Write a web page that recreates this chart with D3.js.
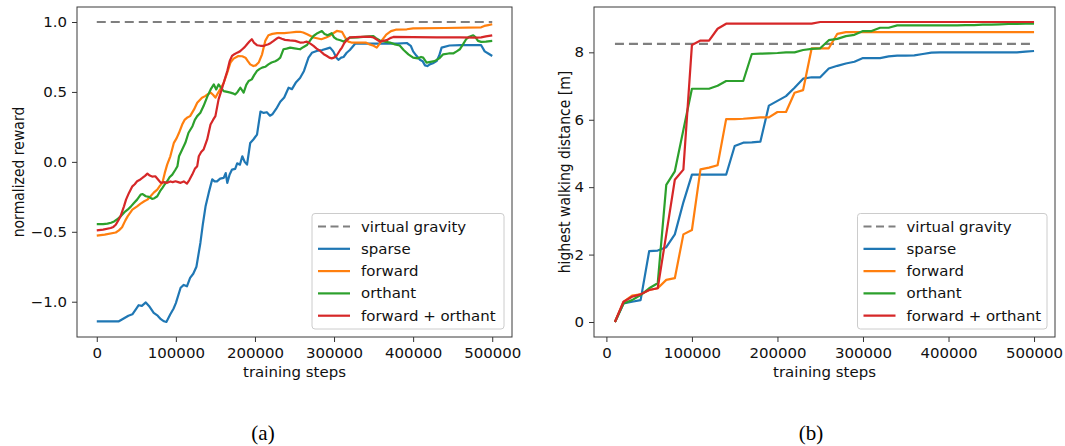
<!DOCTYPE html>
<html>
<head>
<meta charset="utf-8">
<script src="https://cdn.jsdelivr.net/npm/d3@7"></script>
<style>
  body { margin: 0; background: #ffffff; }
  svg { display: block; }
</style>
</head>
<body>
<svg id="fig" width="1065" height="446"></svg>
<script>
// ---------------- data ----------------
const stepTicks = [0, 100000, 200000, 300000, 400000, 500000];
const rewardTicks = [-1.0, -0.5, 0.0, 0.5, 1.0];
const distanceTicks = [0, 2, 4, 6, 8];

const seriesNames = ["sparse", "forward", "orthant", "forward + orthant"];
const seriesColors = ["#1f77b4", "#ff7f0e", "#2ca02c", "#d62728"];
const gravityName = "virtual gravity";
const gravityColor = "#7f7f7f";

// (a) normalized reward, [training step, reward]
const gravityReward = 1.0;
const sparseReward = [[0,-1.14],[10000,-1.14],[20000,-1.14],[28000,-1.14],[34000,-1.12],[40000,-1.10],[45000,-1.09],[50000,-1.05],[53000,-1.025],[57000,-1.03],[62000,-1.005],[66000,-1.03],[72000,-1.08],[77000,-1.10],[81000,-1.125],[85000,-1.14],[88000,-1.145],[93000,-1.09],[97000,-1.05],[100000,-1.01],[106000,-0.90],[110000,-0.88],[114000,-0.89],[118000,-0.83],[122000,-0.80],[126000,-0.75],[131000,-0.58],[134000,-0.45],[137500,-0.32],[141600,-0.22],[146000,-0.125],[149000,-0.14],[152000,-0.14],[156000,-0.12],[160500,-0.115],[163000,-0.08],[165000,-0.15],[168000,-0.09],[171000,-0.055],[175000,-0.05],[177500,-0.01],[181000,-0.02],[184000,0.04],[187000,0.0],[190000,-0.02],[194000,0.135],[198000,0.16],[202600,0.195],[207000,0.36],[211000,0.35],[215000,0.355],[219000,0.33],[222000,0.34],[227000,0.38],[232000,0.43],[237000,0.46],[242500,0.53],[246800,0.52],[252000,0.57],[257000,0.60],[262000,0.65],[267700,0.745],[272000,0.78],[278000,0.793],[285000,0.80],[291000,0.81],[295000,0.817],[299000,0.79],[303000,0.745],[305500,0.73],[309000,0.745],[312000,0.75],[316000,0.78],[320000,0.80],[326600,0.845],[340000,0.845],[360000,0.846],[380000,0.846],[392000,0.85],[397000,0.83],[400000,0.79],[404000,0.76],[408600,0.73],[412000,0.72],[415000,0.69],[418000,0.685],[421000,0.697],[425000,0.705],[429600,0.72],[433000,0.76],[436000,0.817],[446000,0.832],[460000,0.834],[486000,0.834],[490500,0.79],[495000,0.775],[500000,0.757]];
const forwardReward = [[0,-0.528],[10000,-0.52],[24000,-0.505],[28000,-0.49],[32000,-0.468],[36000,-0.42],[39000,-0.39],[45000,-0.342],[51000,-0.318],[55000,-0.30],[60000,-0.282],[64000,-0.27],[68000,-0.246],[72000,-0.22],[76500,-0.198],[80000,-0.17],[83000,-0.15],[86000,-0.079],[89000,-0.02],[93000,0.04],[97500,0.136],[101000,0.17],[104000,0.208],[108000,0.267],[111000,0.30],[114000,0.315],[118000,0.327],[123000,0.375],[127000,0.423],[133000,0.459],[137000,0.47],[140000,0.482],[144000,0.495],[147000,0.48],[150000,0.459],[153000,0.49],[156000,0.518],[160500,0.566],[165000,0.638],[169000,0.71],[173000,0.738],[179000,0.757],[184000,0.755],[188000,0.745],[191000,0.72],[194000,0.697],[198000,0.685],[201000,0.69],[204700,0.71],[209000,0.769],[213000,0.865],[217000,0.905],[222000,0.915],[228000,0.92],[237000,0.92],[245000,0.925],[252000,0.93],[257000,0.93],[261000,0.925],[266000,0.912],[274000,0.889],[284000,0.877],[290000,0.889],[294000,0.90],[299000,0.92],[303500,0.936],[310000,0.93],[314000,0.889],[318000,0.86],[322000,0.853],[330000,0.853],[340000,0.853],[345000,0.84],[350000,0.83],[354000,0.817],[357000,0.84],[360000,0.865],[366000,0.91],[372000,0.935],[378000,0.945],[392000,0.948],[400000,0.955],[440000,0.957],[486000,0.962],[490000,0.972],[495000,0.978],[500000,0.984]];
const orthantReward = [[0,-0.445],[8000,-0.445],[13500,-0.442],[18000,-0.435],[22000,-0.426],[26000,-0.41],[30000,-0.39],[35000,-0.36],[39000,-0.342],[43000,-0.32],[47000,-0.294],[51000,-0.27],[55500,-0.234],[58000,-0.23],[62000,-0.246],[66000,-0.25],[70000,-0.265],[73000,-0.26],[76500,-0.246],[80000,-0.21],[83000,-0.186],[86000,-0.16],[89000,-0.139],[92000,-0.11],[95500,-0.091],[99000,-0.06],[102000,-0.031],[104000,0.04],[108000,0.088],[112000,0.136],[116000,0.208],[121000,0.255],[124000,0.30],[127000,0.327],[131000,0.351],[135000,0.399],[140000,0.47],[144000,0.518],[148000,0.554],[151000,0.518],[154000,0.554],[157000,0.53],[160500,0.506],[165000,0.50],[169000,0.495],[172000,0.49],[175000,0.482],[178000,0.50],[181600,0.53],[185700,0.495],[189000,0.55],[192000,0.578],[196000,0.59],[199000,0.62],[202600,0.65],[206000,0.665],[209000,0.674],[213000,0.68],[217000,0.697],[221000,0.71],[225700,0.72],[229000,0.73],[232000,0.745],[236000,0.805],[240000,0.81],[244600,0.817],[250000,0.812],[257000,0.805],[261000,0.82],[265700,0.835],[270000,0.87],[274000,0.90],[279000,0.92],[284600,0.935],[288000,0.915],[292000,0.905],[297000,0.92],[300000,0.89],[303500,0.877],[308000,0.87],[312000,0.86],[316000,0.875],[320000,0.889],[330000,0.89],[340000,0.895],[349700,0.90],[353000,0.885],[358000,0.868],[364000,0.86],[370700,0.853],[377000,0.84],[383000,0.832],[388000,0.80],[394000,0.769],[400000,0.745],[406000,0.74],[410000,0.75],[412700,0.745],[417000,0.71],[422000,0.715],[427000,0.72],[433000,0.74],[438000,0.769],[445000,0.775],[450600,0.775],[455000,0.79],[459000,0.805],[463000,0.84],[467000,0.877],[471000,0.895],[476000,0.905],[479000,0.89],[482000,0.865],[486000,0.858],[492000,0.86],[500000,0.865]];
const bothReward = [[0,-0.49],[8000,-0.485],[17600,-0.473],[21000,-0.465],[24000,-0.45],[27000,-0.42],[30000,-0.39],[34400,-0.318],[37000,-0.27],[40700,-0.222],[45000,-0.175],[48000,-0.16],[51000,-0.139],[54000,-0.13],[57600,-0.115],[61000,-0.10],[64000,-0.084],[67000,-0.098],[70000,-0.105],[74000,-0.103],[78000,-0.13],[81000,-0.15],[85000,-0.145],[89000,-0.15],[93000,-0.14],[96000,-0.145],[99600,-0.139],[103000,-0.145],[106000,-0.15],[110000,-0.14],[114000,-0.156],[117000,-0.13],[120700,-0.091],[124000,-0.05],[127000,-0.031],[129000,0.04],[132000,0.07],[135000,0.088],[139600,0.16],[143800,0.267],[147000,0.30],[150000,0.327],[154000,0.447],[157000,0.50],[160500,0.566],[165000,0.65],[168000,0.72],[171000,0.757],[174000,0.77],[177500,0.781],[181000,0.79],[184000,0.805],[187000,0.82],[190000,0.841],[193000,0.86],[196000,0.877],[199000,0.85],[202600,0.834],[207000,0.83],[211000,0.829],[214000,0.835],[217000,0.841],[220000,0.85],[223600,0.865],[227000,0.88],[230000,0.889],[234000,0.88],[238000,0.872],[244000,0.868],[251000,0.865],[257000,0.853],[262000,0.855],[265700,0.86],[270000,0.845],[274000,0.829],[278000,0.81],[282500,0.793],[287000,0.77],[291000,0.757],[294000,0.745],[297000,0.74],[300000,0.745],[303000,0.757],[307700,0.80],[310000,0.817],[313000,0.85],[316000,0.87],[320000,0.89],[333000,0.893],[345000,0.895],[350000,0.889],[354000,0.875],[358000,0.86],[362000,0.865],[366600,0.87],[371000,0.885],[375000,0.893],[400000,0.892],[430000,0.89],[459000,0.89],[480000,0.889],[486000,0.89],[492000,0.897],[500000,0.905]];

// (b) highest walking distance [m], one value per evaluation step
const distanceSteps = [10000,20000,30000,40000,50000,60000,70000,80000,90000,100000,110000,120000,130000,140000,150000,160000,170000,180000,190000,200000,210000,220000,230000,240000,250000,260000,270000,280000,290000,300000,310000,320000,330000,340000,350000,360000,370000,380000,390000,400000,410000,420000,430000,440000,450000,460000,470000,480000,490000,500000];
const gravityDistance = 8.25;
const sparseDistance = [0,0.55,0.60,0.65,2.10,2.12,2.22,2.60,3.55,4.37,4.37,4.37,4.37,4.37,5.22,5.32,5.33,5.35,6.42,6.56,6.70,6.95,7.22,7.26,7.26,7.52,7.60,7.67,7.72,7.83,7.83,7.83,7.88,7.90,7.90,7.91,7.95,7.99,8.00,8.00,8.00,8.00,8.00,8.00,8.00,8.00,8.00,8.00,8.02,8.04];
const forwardDistance = [0,0.60,0.78,0.82,0.95,1.00,1.25,1.30,2.60,2.73,4.53,4.58,4.65,6.02,6.02,6.03,6.05,6.07,6.07,6.23,6.23,6.80,6.88,8.12,8.12,8.12,8.55,8.60,8.60,8.60,8.60,8.60,8.60,8.60,8.60,8.60,8.60,8.60,8.60,8.60,8.60,8.60,8.60,8.60,8.60,8.60,8.60,8.60,8.60,8.60];
const orthantDistance = [0,0.55,0.65,0.80,1.00,1.15,4.07,4.47,5.70,6.92,6.92,6.92,7.01,7.15,7.15,7.15,7.95,7.96,7.97,7.98,8.00,8.00,8.07,8.10,8.12,8.36,8.40,8.48,8.52,8.63,8.63,8.73,8.73,8.80,8.80,8.80,8.80,8.80,8.80,8.80,8.80,8.81,8.81,8.82,8.82,8.83,8.84,8.84,8.85,8.85];
const bothDistance = [0,0.60,0.75,0.82,0.95,1.00,2.60,4.22,4.52,8.22,8.35,8.35,8.70,8.85,8.85,8.85,8.85,8.85,8.85,8.85,8.85,8.85,8.85,8.85,8.90,8.90,8.90,8.90,8.90,8.90,8.90,8.90,8.90,8.90,8.90,8.90,8.90,8.90,8.90,8.90,8.90,8.90,8.90,8.90,8.90,8.90,8.90,8.90,8.90,8.90];

// ---------------- drawing ----------------
const FONT = "'DejaVu Sans', sans-serif";
const FS = 14;          // text size in px
const SX = 1.07;        // horizontal text stretch of the figure
const LW = 2.2;         // data line width
const svg = d3.select("#fig");

function stretchText(sel, dx) {
  sel.attr("x", 0).attr("transform", `translate(${dx},0) scale(${SX},1)`);
}

function drawPanel(cfg) {
  const { left, right, top, bottom, xDomain, yDomain, yTicks, yFormat, yLabel, series, gravity, caption, captionX } = cfg;
  const x = d3.scaleLinear().domain(xDomain).range([left, right]);
  const y = d3.scaleLinear().domain(yDomain).range([bottom, top]);
  const g = svg.append("g");

  // axes with outward ticks
  const xAxis = g.append("g").attr("transform", `translate(0,${bottom})`)
    .call(d3.axisBottom(x).tickValues(stepTicks).tickFormat(d3.format("d")).tickSize(5).tickPadding(6));
  const yAxis = g.append("g").attr("transform", `translate(${left},0)`)
    .call(d3.axisLeft(y).tickValues(yTicks).tickFormat(yFormat).tickSize(5).tickPadding(5));
  [xAxis, yAxis].forEach(a => {
    a.select(".domain").remove();
    a.selectAll("line").attr("stroke", "#333").attr("stroke-width", 1);
    a.selectAll("text").attr("font-family", FONT).attr("font-size", FS).attr("fill", "#111");
  });
  xAxis.selectAll("text").each(function () { stretchText(d3.select(this), 0); });
  yAxis.selectAll("text").each(function () { stretchText(d3.select(this), -10); });

  // clip region for the data lines
  const clipId = "clip" + left;
  g.append("clipPath").attr("id", clipId).append("rect")
    .attr("x", left).attr("y", top).attr("width", right - left).attr("height", bottom - top);
  const plot = g.append("g").attr("clip-path", `url(#${clipId})`);

  const line = d3.line().x(d => x(d[0])).y(d => y(d[1]));

  plot.append("path").datum(gravity)
    .attr("d", line).attr("fill", "none").attr("stroke", gravityColor)
    .attr("stroke-width", LW).attr("stroke-dasharray", "9,5");

  series.forEach((s, i) => {
    plot.append("path").datum(s)
      .attr("d", line).attr("fill", "none").attr("stroke", seriesColors[i])
      .attr("stroke-width", LW).attr("stroke-linejoin", "round").attr("stroke-linecap", "butt");
  });

  // frame
  g.append("rect").attr("x", left).attr("y", top).attr("width", right - left).attr("height", bottom - top)
    .attr("fill", "none").attr("stroke", "#3a3a3a").attr("stroke-width", 1);

  // axis labels
  g.append("text").attr("font-family", FONT).attr("font-size", FS).attr("fill", "#111")
    .attr("text-anchor", "middle")
    .attr("transform", `translate(${(left + right) / 2},${bottom + 40}) scale(${SX},1)`)
    .text("training steps");
  g.append("text").attr("font-family", FONT).attr("font-size", FS).attr("fill", "#111")
    .attr("text-anchor", "middle")
    .attr("transform", `translate(${cfg.yLabelX},${(top + bottom) / 2}) scale(${SX},1) rotate(-90)`)
    .text(yLabel);

  // legend
  const lgRight = right - 8, lgBottom = bottom - 8;
  const lgWidth = cfg.legendWidth, rowH = 22.3;
  const entries = [{ name: gravityName, color: gravityColor, dash: "8,4.5" }]
    .concat(seriesNames.map((n, i) => ({ name: n, color: seriesColors[i], dash: null })));
  const lgHeight = rowH * entries.length + 4;
  const lg = g.append("g").attr("transform", `translate(${lgRight - lgWidth},${lgBottom - lgHeight})`);
  lg.append("rect").attr("width", lgWidth).attr("height", lgHeight).attr("rx", 3)
    .attr("fill", "#ffffff").attr("fill-opacity", 0.8).attr("stroke", "#cccccc").attr("stroke-width", 1);
  entries.forEach((e, i) => {
    const cy = 13 + i * rowH;
    lg.append("line").attr("x1", 6).attr("x2", 38).attr("y1", cy).attr("y2", cy)
      .attr("stroke", e.color).attr("stroke-width", LW)
      .attr("stroke-dasharray", e.dash);
    lg.append("text").attr("font-family", FONT).attr("font-size", FS).attr("fill", "#111")
      .attr("transform", `translate(49,${cy + 5}) scale(${SX},1)`).text(e.name);
  });

  // panel caption
  svg.append("text").attr("font-family", "'Liberation Serif', 'Times New Roman', serif")
    .attr("font-size", 21).attr("fill", "#000").attr("text-anchor", "middle")
    .attr("x", captionX).attr("y", 440).text(caption);
}

drawPanel({
  left: 77, right: 512, top: 7, bottom: 337,
  xDomain: [-25000, 525000], yDomain: [-1.2523, 1.1073],
  yTicks: rewardTicks, yFormat: d => d3.format(".1f")(d).replace("-", "\u2212"),
  yLabel: "normalized reward", yLabelX: 24,
  series: [sparseReward, forwardReward, orthantReward, bothReward],
  gravity: [[0, gravityReward], [500000, gravityReward]],
  legendWidth: 192, caption: "(a)", captionX: 263
});

const toPairs = vals => distanceSteps.map((s, i) => [s, vals[i]]);
drawPanel({
  left: 594, right: 1055, top: 7, bottom: 337,
  xDomain: [-14500, 524500], yDomain: [-0.445, 9.345],
  yTicks: distanceTicks, yFormat: d3.format("d"),
  yLabel: "highest walking distance [m]", yLabelX: 570,
  series: [sparseDistance, forwardDistance, orthantDistance, bothDistance].map(toPairs),
  gravity: [[distanceSteps[0], gravityDistance], [distanceSteps[distanceSteps.length - 1], gravityDistance]],
  legendWidth: 189.5, caption: "(b)", captionX: 811
});
</script>
</body>
</html>
